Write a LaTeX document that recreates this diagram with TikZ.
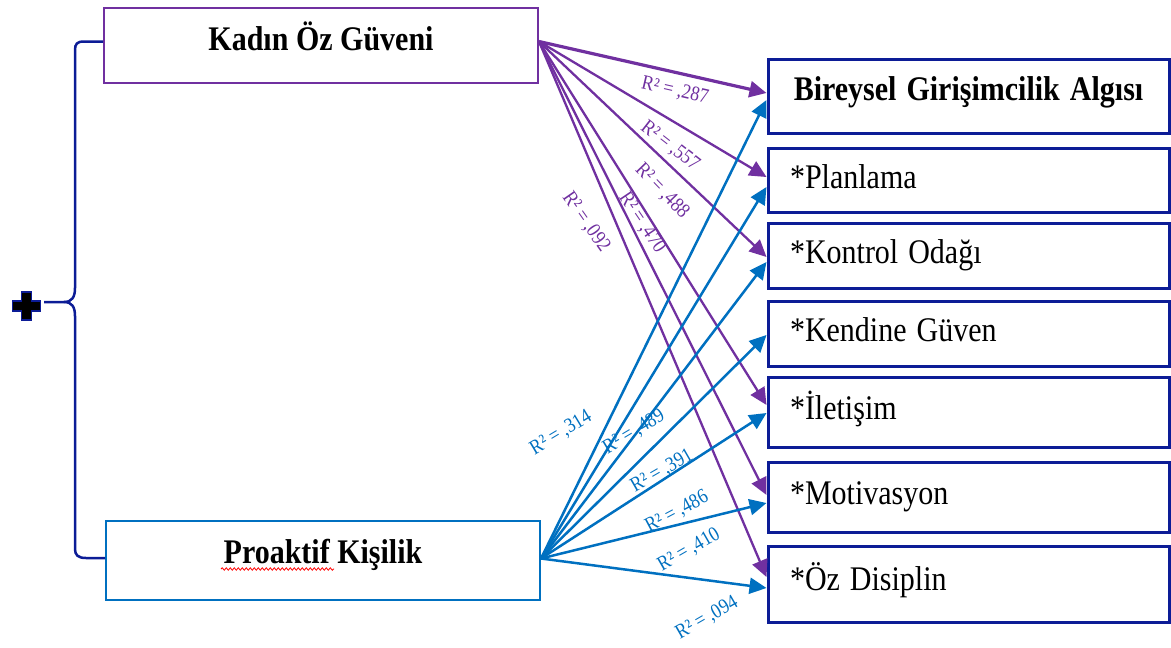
\documentclass[tikz,border=0pt]{standalone}
\usepackage{fontspec}
\setmainfont{Liberation Serif}
\usetikzlibrary{arrows.meta,decorations.pathmorphing,calc}
\definecolor{kpurple}{RGB}{112,48,160}
\definecolor{pblue}{RGB}{0,112,192}
\definecolor{dblue}{RGB}{12,28,150}
\newcommand{\tallt}[1]{\scalebox{1}[1.15]{#1}}
\begin{document}
\begin{tikzpicture}[x=1pt,y=-1pt,
  leftbox/.style={draw, line width=2pt, minimum width=434pt, inner sep=0pt,
    font=\fontsize{30}{36}\selectfont\bfseries, text height=20pt},
  rbox/.style={draw=dblue, line width=3pt, text width=357pt, inner xsep=22pt,
    inner ysep=0pt, align=left, font=\fontsize{30}{36}\selectfont,
    text height=20pt, text depth=4pt},
  parr/.style={draw=kpurple, line width=2.3pt, -{Triangle[length=17pt,width=16pt]}},
  barr/.style={draw=pblue, line width=2.5pt, -{Triangle[length=17pt,width=16pt]}},
  plab/.style={text=kpurple, font=\fontsize{18}{20}\selectfont, inner sep=0pt},
  blab/.style={text=pblue, font=\fontsize{18}{20}\selectfont, inner sep=0pt},
  bracestyle/.style={draw=dblue, line width=2.5pt}
]
\useasboundingbox (0,0) rectangle (1171,648);

% left boxes
\node[leftbox, draw=kpurple, minimum height=75pt, text depth=10pt] (K) at (321,45.5) {\tallt{Kadın Öz Güveni}};
\node[leftbox, draw=pblue, minimum height=79pt, text depth=14pt] (P) at (323,560.5) {\tallt{Proaktif Kişilik}};
\draw[red, line width=0.8pt, decorate, decoration={snake, amplitude=1.2pt, segment length=4pt}] (221,569) -- (334,569);

% right boxes
\node[rbox, text width=380pt, inner xsep=10.5pt, align=center, minimum height=74pt,
  text depth=11pt, font=\fontsize{30}{36}\selectfont\bfseries] (B1) at (968.5,96) {\tallt{Bireysel Girişimcilik Algısı}};
\node[rbox, minimum height=64pt] (B2) at (968.5,180) {\tallt{*Planlama}};
\node[rbox, minimum height=65pt] (B3) at (968.5,255.5) {\tallt{*Kontrol Odağı}};
\node[rbox, minimum height=65pt] (B4) at (968.5,333.5) {\tallt{*Kendine Güven}};
\node[rbox, minimum height=70pt, text depth=6pt] (B5) at (968.5,412) {\tallt{*İletişim}};
\node[rbox, minimum height=70pt, text depth=6pt] (B6) at (968.5,497) {\tallt{*Motivasyon}};
\node[rbox, minimum height=76pt, text depth=7pt] (B7) at (968.5,584) {\tallt{*Öz Disiplin}};

% brace and plus
\draw[bracestyle] ([yshift=4pt]K.west) -- (84,41.5) .. controls (77,41.5) and (75,44) .. (75,50)
  -- (75,288) .. controls (75,297) and (72,302) .. (64,302) -- (44,302);
\draw[bracestyle] (64,302) .. controls (72,302) and (75,307) .. (75,316)
  -- (75,549) .. controls (75,555) and (78,558) .. (86,558) -- ([yshift=2.5pt]P.west);
\filldraw[fill=black, draw=dblue, line width=1.5pt]
  (21.5,292) -- (31.5,292) -- (31.5,301) -- (40.5,301) -- (40.5,311) -- (31.5,311)
  -- (31.5,320) -- (21.5,320) -- (21.5,311) -- (12.5,311) -- (12.5,301) -- (21.5,301) -- cycle;

% origins
\coordinate (ko) at ([yshift=4pt]K.east);
\coordinate (po) at ([yshift=2pt]P.east);

% purple arrows
\draw[parr, line width=3.2pt] (ko) -- ([yshift=3pt]B1.west);
\draw[parr] (ko) -- ([yshift=3pt]B2.west);
\draw[parr] (ko) -- ([yshift=-1.5pt]B3.west);
\draw[parr] (ko) -- ([yshift=7pt]B5.west);
\draw[parr] (ko) -- ([yshift=2pt]B6.west);
\draw[parr] (ko) -- ([yshift=7pt]B7.west);

% blue arrows
\draw[barr] (po) -- ([yshift=-4pt]B1.west);
\draw[barr] (po) -- ([yshift=-7pt]B2.west);
\draw[barr] (po) -- ([yshift=-6.5pt]B3.west);
\draw[barr] (po) -- ([yshift=-1.5pt]B4.west);
\draw[barr] (po) -- ([yshift=-1pt]B5.west);
\draw[barr] (po) -- ([yshift=-6pt]B6.west);
\draw[barr] (po) -- ([yshift=-4pt]B7.west);

% purple labels
\node[plab, rotate=-13] (l287) at (675,91) {\tallt{R² = ,287}};
\node[plab, rotate=-38] (l557) at (670,146) {\tallt{R² = ,557}};
\node[plab, rotate=-46] (l488) at (662,191) {\tallt{R² = ,488}};
\node[plab, rotate=-56] (l470) at (642,223) {\tallt{R² = ,470}};
\node[plab, rotate=-55] (l092) at (586,222) {\tallt{R² = ,092}};

% blue labels
\node[blab, rotate=31] (l314) at (561,433) {\tallt{R² = ,314}};
\node[blab, rotate=31] (l489) at (634,432) {\tallt{R² = ,489}};
\node[blab, rotate=30] (l391) at (662,471) {\tallt{R² = ,391}};
\node[blab, rotate=28] (l486) at (677,512) {\tallt{R² = ,486}};
\node[blab, rotate=30] (l410) at (689,550) {\tallt{R² = ,410}};
\node[blab, rotate=30] (l094) at (707,618) {\tallt{R² = ,094}};
\end{tikzpicture}
\end{document}
